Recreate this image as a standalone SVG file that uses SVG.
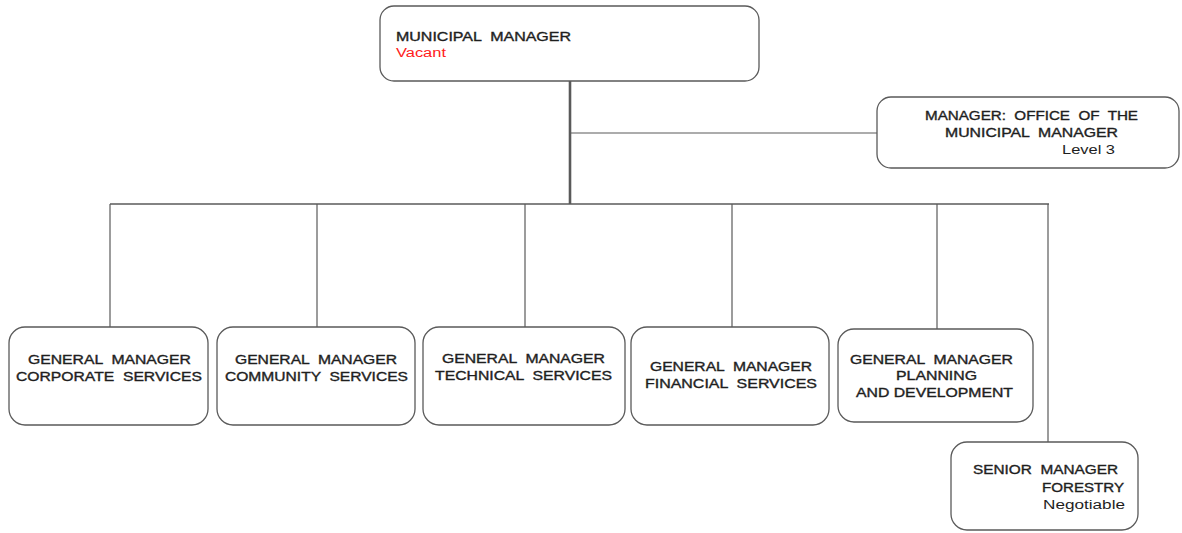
<svg xmlns="http://www.w3.org/2000/svg" width="1182" height="533" viewBox="0 0 1182 533">
  <style>
    .box { fill: #ffffff; stroke: #5a5a5a; stroke-width: 1.3; }
    .line { stroke: #5a5a5a; fill: none; }
    .t { font-family: "Liberation Sans", Arial, sans-serif; font-size: 12.5px; fill: #1e1e1e; white-space: pre; }
    .caps { stroke: #1e1e1e; stroke-width: 0.35; }
    .red { fill: #ff2020; }
  </style>
  <rect width="1182" height="533" fill="#ffffff"/>

  <!-- connectors -->
  <g id="connectors">
    <line class="line" x1="570" y1="80" x2="570" y2="204" stroke-width="2.6"/>
    <line class="line" x1="570" y1="133" x2="877" y2="133" stroke-width="1.2"/>
    <line class="line" x1="110" y1="204" x2="1049" y2="204" stroke-width="1.6"/>
    <line class="line" x1="110" y1="204" x2="110" y2="327" stroke-width="1.2"/>
    <line class="line" x1="317" y1="204" x2="317" y2="327" stroke-width="1.2"/>
    <line class="line" x1="525" y1="204" x2="525" y2="327" stroke-width="1.2"/>
    <line class="line" x1="732" y1="204" x2="732" y2="327" stroke-width="1.2"/>
    <line class="line" x1="937" y1="204" x2="937" y2="329" stroke-width="1.2"/>
    <line class="line" x1="1048" y1="204" x2="1048" y2="442" stroke-width="1.2"/>
  </g>

  <g id="municipal-manager">
    <rect class="box" x="380" y="6" width="379" height="75" rx="14"/>
    <text class="t caps" x="396" y="40.5" textLength="175" lengthAdjust="spacingAndGlyphs">MUNICIPAL  MANAGER</text>
    <text class="t red" x="396" y="57" textLength="50" lengthAdjust="spacingAndGlyphs">Vacant</text>
  </g>

  <g id="office-manager">
    <rect class="box" x="877" y="97" width="302" height="71" rx="14"/>
    <text class="t caps" x="925" y="120" textLength="213" lengthAdjust="spacingAndGlyphs">MANAGER:  OFFICE  OF  THE</text>
    <text class="t caps" x="945" y="137" textLength="173" lengthAdjust="spacingAndGlyphs">MUNICIPAL  MANAGER</text>
    <text class="t" x="1062" y="154" textLength="53" lengthAdjust="spacingAndGlyphs">Level 3</text>
  </g>

  <g id="gm-corporate">
    <rect class="box" x="9" y="327" width="199" height="98" rx="16"/>
    <text class="t caps" x="28" y="364" textLength="163" lengthAdjust="spacingAndGlyphs">GENERAL  MANAGER</text>
    <text class="t caps" x="16" y="381" textLength="186" lengthAdjust="spacingAndGlyphs">CORPORATE  SERVICES</text>
  </g>

  <g id="gm-community">
    <rect class="box" x="217" y="327" width="198" height="98" rx="16"/>
    <text class="t caps" x="235" y="364" textLength="162" lengthAdjust="spacingAndGlyphs">GENERAL  MANAGER</text>
    <text class="t caps" x="225" y="381" textLength="183" lengthAdjust="spacingAndGlyphs">COMMUNITY  SERVICES</text>
  </g>

  <g id="gm-technical">
    <rect class="box" x="423" y="327" width="202" height="98" rx="16"/>
    <text class="t caps" x="442" y="363" textLength="163" lengthAdjust="spacingAndGlyphs">GENERAL  MANAGER</text>
    <text class="t caps" x="435" y="380" textLength="177" lengthAdjust="spacingAndGlyphs">TECHNICAL  SERVICES</text>
  </g>

  <g id="gm-financial">
    <rect class="box" x="631" y="327" width="198" height="98" rx="16"/>
    <text class="t caps" x="650" y="371" textLength="162" lengthAdjust="spacingAndGlyphs">GENERAL  MANAGER</text>
    <text class="t caps" x="645" y="388" textLength="172" lengthAdjust="spacingAndGlyphs">FINANCIAL  SERVICES</text>
  </g>

  <g id="gm-planning">
    <rect class="box" x="838" y="329" width="195" height="93" rx="16"/>
    <text class="t caps" x="850" y="364" textLength="163" lengthAdjust="spacingAndGlyphs">GENERAL  MANAGER</text>
    <text class="t caps" x="896" y="380" textLength="81" lengthAdjust="spacingAndGlyphs">PLANNING</text>
    <text class="t caps" x="856" y="397" textLength="157" lengthAdjust="spacingAndGlyphs">AND DEVELOPMENT</text>
  </g>

  <g id="senior-forestry">
    <rect class="box" x="951" y="442" width="187" height="88" rx="16"/>
    <text class="t caps" x="973" y="474" textLength="145" lengthAdjust="spacingAndGlyphs">SENIOR  MANAGER</text>
    <text class="t caps" x="1042" y="492" textLength="82" lengthAdjust="spacingAndGlyphs">FORESTRY</text>
    <text class="t" x="1043" y="509" textLength="82" lengthAdjust="spacingAndGlyphs">Negotiable</text>
  </g>
</svg>
